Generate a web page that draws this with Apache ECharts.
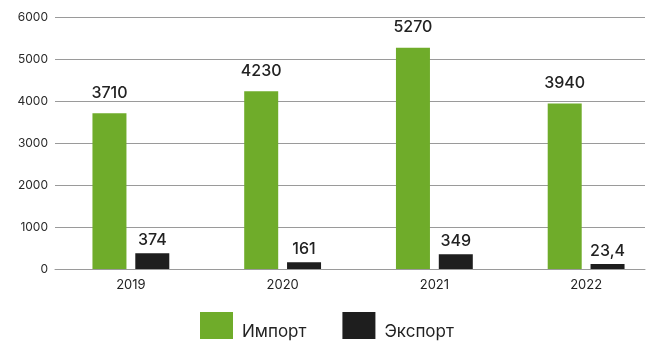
<!DOCTYPE html>
<html><head><meta charset="utf-8">
<script src="https://cdn.jsdelivr.net/npm/echarts@6/dist/echarts.min.js"></script>
<style>html,body{margin:0;padding:0;background:#fff}#c{width:656px;height:353px}</style>
</head><body><div id="c"></div>
<script>
var years = ['2019', '2020', '2021', '2022'];
var importValues = [3710, 4230, 5270, 3940];
var exportValues = [374, 161, 349, 23.4];
var seriesNames = ['Импорт', 'Экспорт'];
var yTicks = [0, 1000, 2000, 3000, 4000, 5000, 6000];

var FONT = 'Inter';
var chart = echarts.init(document.getElementById('c'), null, {renderer: 'canvas'});
function fmt(v) { return String(v).replace('.', ','); }
chart.setOption({
  animation: false,
  grid: [
    {left: 55, right: 11, top: 17, bottom: 84, outerBoundsMode: 'none'},
    {left: 55, width: 607, top: 17, bottom: 84, outerBoundsMode: 'none'}
  ],
  xAxis: [
    {gridIndex: 0, type: 'category', data: years,
     axisLine: {show: true, lineStyle: {color: '#9a9a9a', width: 1}},
     axisTick: {show: false}, axisLabel: {show: false}},
    {gridIndex: 1, type: 'category', data: years,
     axisLine: {show: false}, axisTick: {show: false},
     axisLabel: {color: '#222', fontFamily: FONT, fontSize: 13, margin: 10}}
  ],
  yAxis: [
    {gridIndex: 0, type: 'value', min: yTicks[0], max: yTicks[yTicks.length - 1], interval: 1000,
     axisLine: {show: false}, axisTick: {show: false},
     axisLabel: {color: '#2a2a2a', fontFamily: FONT, fontSize: 12, margin: 7,
                 formatter: function (v) { return String(v); }},
     splitLine: {lineStyle: {color: '#9a9a9a', width: 1}}},
    {gridIndex: 1, type: 'value', min: yTicks[0], max: yTicks[yTicks.length - 1], interval: 1000,
     show: false, splitLine: {show: false}}
  ],
  legend: {
    left: 195, top: 307, itemWidth: 33, itemHeight: 27, itemGap: 36,
    icon: 'rect',
    formatter: '{t|{name}}',
    textStyle: {
      color: '#222', fontFamily: FONT, fontSize: 17,
      rich: {t: {color: '#222', fontFamily: FONT, fontSize: 17, lineHeight: 30,
                 verticalAlign: 'bottom', padding: [0, 0, 0, 4]}}
    },
    data: seriesNames
  },
  series: [
    {name: seriesNames[0], type: 'bar', xAxisIndex: 1, yAxisIndex: 1, data: importValues,
     barWidth: 34, barGap: '26%', itemStyle: {color: '#6fac2a'},
     label: {show: true, position: 'top', distance: 12, color: '#222', fontFamily: FONT,
             fontSize: 16, fontWeight: 500, formatter: function (p) { return fmt(p.value); }}},
    {name: seriesNames[1], type: 'bar', xAxisIndex: 1, yAxisIndex: 1, data: exportValues,
     barWidth: 34, barGap: '26%', barMinHeight: 5, itemStyle: {color: '#1e1e1e'},
     label: {show: true, position: 'top', distance: 5, color: '#222', fontFamily: FONT,
             fontSize: 16, fontWeight: 500, formatter: function (p) { return fmt(p.value); }}}
  ]
});
</script></body></html>
